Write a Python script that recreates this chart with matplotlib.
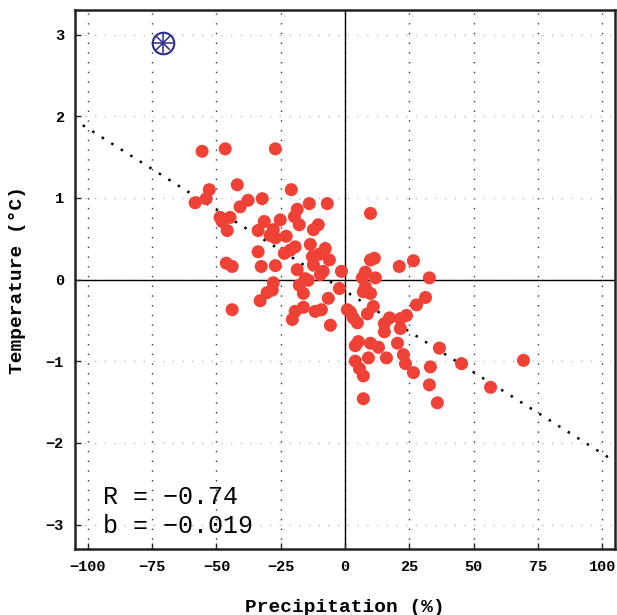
import numpy as np
import matplotlib
matplotlib.use("Agg")
import matplotlib.pyplot as plt

# precipitation anomaly (%) vs temperature anomaly (degC), one point per member
precip = [
    -55.6, -46.6, -27.1, -52.8, -58.3, -54.0, -41.9, -37.7, -40.8, -32.2,
    -20.9, -13.9, -6.9, -18.6, -19.7, -17.8, -48.6, -44.7, -47.8, -45.8,
    -31.4, -33.8, -25.2, -27.9, -29.1, -27.1, -22.9, -33.8, -32.6, -27.1,
    -46.2, -43.9, -23.6, -21.3, -19.4, -13.5, -12.3, -10.4, -12.7, -12.3,
    -18.6, -14.3, -17.8, -16.2, -9.6, -7.7, -10.0, -6.1, -1.4, -15.5,
    9.9, 7.9, 6.7, 9.9, 11.4, 11.8, 21.1, 26.6, 32.8, 7.9,
    7.1, 9.9, 31.3, -43.9, -33.0, -30.3, -28.3, -27.9, -20.5, -19.4,
    -16.2, -11.6, -9.2, -6.5, -5.7, -2.2, 0.9, 2.1, 3.2, 4.8,
    8.7, 11.0, 27.8, 17.3, 21.5, 23.9, 15.3, 21.5, 15.3, 5.2,
    4.0, 9.9, 13.0, 20.4, 4.0, 9.1, 16.1, 22.7, 23.5, 5.6,
    7.1, 26.6, 33.2, 36.7, 45.3, 69.4, 56.6, 32.8, 35.9, 7.1,
    -8.5,
]
temp = [
    1.57, 1.60, 1.60, 1.10, 0.94, 0.99, 1.16, 0.97, 0.89, 0.99,
    1.10, 0.93, 0.93, 0.86, 0.77, 0.67, 0.76, 0.76, 0.71, 0.60,
    0.71, 0.60, 0.73, 0.61, 0.54, 0.51, 0.53, 0.34, 0.16, 0.17,
    0.20, 0.16, 0.32, 0.36, 0.40, 0.43, 0.61, 0.67, 0.28, 0.18,
    0.12, -0.01, -0.07, -0.17, 0.06, 0.38, 0.31, 0.24, 0.10, 0.01,
    0.81, 0.09, 0.02, 0.24, 0.26, 0.02, 0.16, 0.23, 0.02, -0.09,
    -0.15, -0.17, -0.22, -0.37, -0.26, -0.16, -0.13, -0.04, -0.49, -0.39,
    -0.34, -0.39, -0.37, -0.23, -0.56, -0.11, -0.37, -0.40, -0.47, -0.53,
    -0.42, -0.33, -0.31, -0.47, -0.48, -0.44, -0.54, -0.60, -0.64, -0.76,
    -0.81, -0.78, -0.83, -0.78, -1.00, -0.96, -0.96, -0.92, -1.03, -1.09,
    -1.18, -1.14, -1.07, -0.84, -1.03, -0.99, -1.32, -1.29, -1.51, -1.46,
    0.10,
]

# observed value
obs_precip = -70.8
obs_temp = 2.90

# fitted line (as drawn) and the printed statistics
fit_slope = -0.0199
fit_intercept = -0.14
fit_range = [-102, 103]
stats_lines = ["R = \u22120.74", "b = \u22120.019"]

x_ticks = [-100, -75, -50, -25, 0, 25, 50, 75, 100]
y_ticks = [-3, -2, -1, 0, 1, 2, 3]

font = "Liberation Mono"

fig = plt.figure(figsize=(6.17, 6.15), dpi=100)
ax = fig.add_axes([0.1216, 0.1073, 0.8752, 0.8764])

ax.set_xlim(-105, 105)
ax.set_ylim(-3.3, 3.3)

for xv in x_ticks:
    ax.axvline(xv, color="#333333", lw=1.0, ls=(0, (1, 6)), zorder=0)
for yv in y_ticks:
    ax.axhline(yv, color="#bbbbbb", lw=1.0, ls=(0, (1, 6)), zorder=0)
ax.axhline(0, color="black", lw=1.0, zorder=1)
ax.axvline(0, color="black", lw=1.0, zorder=1)

xl = np.array(fit_range)
ax.plot(xl, fit_intercept + fit_slope * xl, color="black", lw=1.8,
        ls=(0, (1, 3.5)), zorder=2)

ax.scatter(precip, temp, s=88, color="#ef4136", edgecolors="none", zorder=3)

# observation: circle with spokes
ax.plot(obs_precip, obs_temp, marker="o", ms=15.5, mfc="none", mec="#2b2b8c",
        mew=1.5, zorder=4)
ax.plot(obs_precip, obs_temp, marker="+", ms=15, mec="#2b2b8c", mew=1.1, zorder=4)
ax.plot(obs_precip, obs_temp, marker="x", ms=10.5, mec="#2b2b8c", mew=1.1, zorder=4)

ax.text(-94, -2.66, stats_lines[0], fontsize=18, family=font,
        va="center", ha="left")
ax.text(-94, -3.02, stats_lines[1], fontsize=18, family=font,
        va="center", ha="left")

ax.set_xticks(x_ticks)
ax.set_yticks(y_ticks)
ax.set_xticklabels([str(v).replace("-", "\u2212") for v in x_ticks],
                   family=font, fontsize=11, fontweight="bold")
ax.set_yticklabels([str(v).replace("-", "\u2212") for v in y_ticks],
                   family=font, fontsize=11, fontweight="bold")
ax.tick_params(direction="in", length=4, width=1, pad=8, color="#222222")

ax.set_xlabel("Precipitation (%)", family=font, fontsize=14, fontweight="bold",
              labelpad=18)
ax.set_ylabel("Temperature (\u00b0C)", family=font, fontsize=14,
              fontweight="bold", labelpad=14)

for sp in ax.spines.values():
    sp.set_linewidth(1.8)
    sp.set_color("#222222")

fig.savefig("out.png", dpi=100)
